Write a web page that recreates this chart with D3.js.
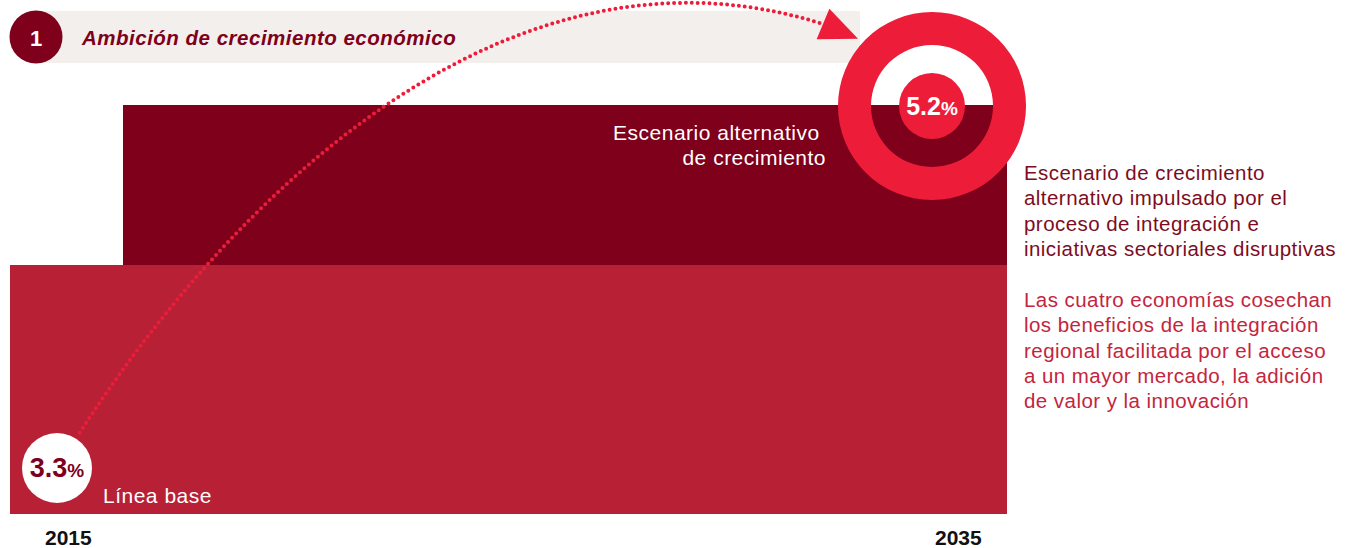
<!DOCTYPE html>
<html lang="es">
<head>
<meta charset="utf-8">
<title>Ambición de crecimiento económico</title>
<script src="https://cdn.jsdelivr.net/npm/d3@7"></script>
<style>
  html, body { margin: 0; padding: 0; background: #ffffff; }
  svg { display: block; font-family: "Liberation Sans", Arial, Helvetica, sans-serif; }
</style>
</head>
<body>
<svg id="chart" width="1350" height="548"></svg>
<script>
// ---- data ----
const years = [2015, 2035];
const scenarioNames = ["Línea base", "Escenario alternativo de crecimiento"];
const growthRates = [3.3, 5.2];
const headerNumber = "1";
const headerTitle = "Ambición de crecimiento económico";
const scenarioLabelLines = ["Escenario alternativo\u00a0", "de crecimiento"];
const noteDarkLines = [
  "Escenario de crecimiento",
  "alternativo impulsado por el",
  "proceso de integración e",
  "iniciativas sectoriales disruptivas"
];
const noteRedLines = [
  "Las cuatro economías cosechan",
  "los beneficios de la integración",
  "regional facilitada por el acceso",
  "a un mayor mercado, la adición",
  "de valor y la innovación"
];

// ---- palette ----
const C = {
  band: "#f2efec",
  dark: "#7f001b",
  base: "#b82035",
  bright: "#ed1d3a",
  noteDark: "#7d0c22",
  noteRed: "#c4253c"
};

const svg = d3.select("#chart");

// ---- layout & scales ----
const plot = { left: 10, right: 1007, bottom: 514 };
const altLeft = 123;

// growth rate -> bar top (piecewise to keep the infographic proportions)
const y = d3.scaleLinear()
  .domain([0, growthRates[0], growthRates[1]])
  .range([plot.bottom, 265, 105]);

// year -> position of the rate badges
const x = d3.scaleLinear().domain(years).range([57, 932]);

// ---- header band ----
const header = svg.append("g");
header.append("rect")
  .attr("x", 36).attr("y", 11)
  .attr("width", 824).attr("height", 52)
  .attr("fill", C.band);
header.append("circle")
  .attr("cx", 36).attr("cy", 37).attr("r", 26.5)
  .attr("fill", C.dark);
header.append("text")
  .attr("x", 36).attr("y", 45.5)
  .attr("text-anchor", "middle")
  .attr("fill", "#ffffff")
  .attr("font-weight", "bold")
  .attr("font-size", 22)
  .text(headerNumber);
header.append("text")
  .attr("x", 82).attr("y", 45)
  .attr("fill", C.dark)
  .attr("font-weight", "bold")
  .attr("font-style", "italic")
  .attr("font-size", 20.5)
  .attr("letter-spacing", 0.5)
  .text(headerTitle);

// ---- bars ----
const bars = [
  { name: scenarioNames[1], value: growthRates[1], x0: altLeft, color: C.dark },
  { name: scenarioNames[0], value: growthRates[0], x0: plot.left, color: C.base }
];
svg.append("g").selectAll("rect")
  .data(bars)
  .join("rect")
  .attr("x", d => d.x0)
  .attr("y", d => y(d.value))
  .attr("width", d => plot.right - d.x0)
  .attr("height", d => y(0) - y(d.value))
  .attr("fill", d => d.color);

// bar labels
const altLbl = svg.append("text")
  .attr("text-anchor", "end")
  .attr("fill", "#ffffff")
  .attr("font-size", 21)
  .attr("letter-spacing", 0.5);
scenarioLabelLines.forEach((t, i) => {
  altLbl.append("tspan").attr("x", 826).attr("y", 140 + i * 25).text(t);
});
svg.append("text")
  .attr("x", 103).attr("y", 503)
  .attr("fill", "#ffffff")
  .attr("font-size", 21)
  .attr("letter-spacing", 0.5)
  .text(scenarioNames[0]);

// ---- growth arc ----
const small = { cx: x(years[0]), cy: 468, r: 35 };
const big = { cx: x(years[1]), cy: y(growthRates[1]) + 1, r0: 33, r1: 61, r2: 94 };

const startDir = [0.54, -0.84];
const P0 = [small.cx + (small.r + 7) * startDir[0], small.cy + (small.r + 7) * startDir[1]];
const P3 = [big.cx - 109, big.cy - 82];
const P1 = [P0[0] + 156, P0[1] - 241];
const P2 = [P3[0] - 313, P3[1] - 99];

const arcPath = d3.path();
arcPath.moveTo(P0[0], P0[1]);
arcPath.bezierCurveTo(P1[0], P1[1], P2[0], P2[1], P3[0], P3[1]);

svg.append("path")
  .attr("d", arcPath.toString())
  .attr("fill", "none")
  .attr("stroke", C.bright)
  .attr("stroke-width", 4)
  .attr("stroke-linecap", "round")
  .attr("stroke-dasharray", "0 5.9");

// arrow head, tilted a little past the curve's end tangent
const ang = Math.atan2(P3[1] - P2[1], P3[0] - P2[0]) + 0.09;
const headLen = 38, headHalf = 16.5;
const ux = Math.cos(ang), uy = Math.sin(ang);
const head = [
  [P3[0] + ux * headLen, P3[1] + uy * headLen],
  [P3[0] - uy * headHalf, P3[1] + ux * headHalf],
  [P3[0] + uy * headHalf, P3[1] - ux * headHalf]
];
svg.append("path")
  .attr("d", d3.line()(head) + "Z")
  .attr("fill", C.bright);

// ---- rate badges ----
const ring = d3.arc().innerRadius(big.r1).outerRadius(big.r2).startAngle(0).endAngle(2 * Math.PI);
const bigG = svg.append("g").attr("transform", `translate(${big.cx},${big.cy})`);
bigG.append("path").attr("d", ring()).attr("fill", C.bright);
bigG.append("circle").attr("r", big.r0).attr("fill", C.bright);
const bigTxt = bigG.append("text")
  .attr("y", 8.5)
  .attr("text-anchor", "middle")
  .attr("fill", "#ffffff")
  .attr("font-weight", "bold");
bigTxt.append("tspan").attr("font-size", 25).text(d3.format(".1f")(growthRates[1]));
bigTxt.append("tspan").attr("font-size", 19).text("%");

const smallG = svg.append("g").attr("transform", `translate(${small.cx},${small.cy})`);
smallG.append("circle").attr("r", small.r).attr("fill", "#ffffff");
const smallTxt = smallG.append("text")
  .attr("y", 9)
  .attr("text-anchor", "middle")
  .attr("fill", C.dark)
  .attr("font-weight", "bold");
smallTxt.append("tspan").attr("font-size", 27).text(d3.format(".1f")(growthRates[0]));
smallTxt.append("tspan").attr("font-size", 19).text("%");

// ---- year labels ----
svg.append("g").selectAll("text")
  .data(years)
  .join("text")
  .attr("x", (d, i) => i === 0 ? 45 : 935)
  .attr("y", 545)
  .attr("fill", "#111111")
  .attr("font-weight", "bold")
  .attr("font-size", 21)
  .text(d => d);

// ---- side notes ----
const notes = svg.append("g")
  .attr("font-size", 20.5)
  .attr("letter-spacing", 0.45);
notes.append("text").attr("fill", C.noteDark)
  .selectAll("tspan").data(noteDarkLines).join("tspan")
  .attr("x", 1024).attr("y", (d, i) => 180 + i * 25.3)
  .text(d => d);
notes.append("text").attr("fill", C.noteRed)
  .selectAll("tspan").data(noteRedLines).join("tspan")
  .attr("x", 1024).attr("y", (d, i) => 307 + i * 25.3)
  .text(d => d);
</script>
</body>
</html>
